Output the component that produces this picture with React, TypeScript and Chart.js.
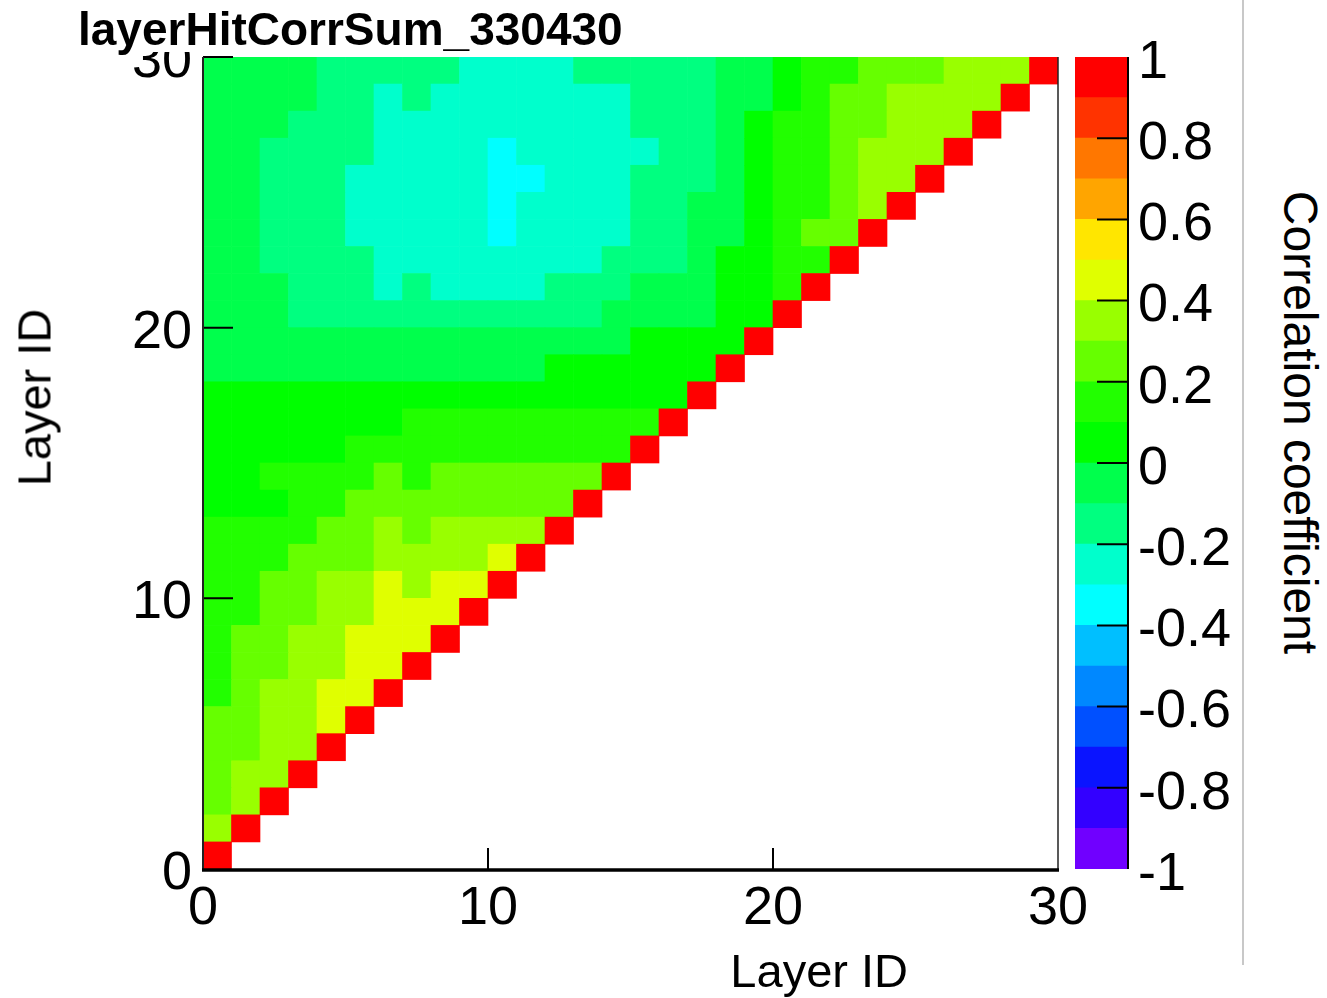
import { useEffect, useRef } from "react";
import { Chart, registerables } from "chart.js";

Chart.register(...registerables);

const FONT = "'Liberation Sans', Arial, Helvetica, sans-serif";

const plotTitle = "layerHitCorrSum_330430";
const axisTitle = "Layer ID";
const colorbarTitle = "Correlation coefficient";

// Layer axes: cell i covers [i, i + 1]
const layerMin = 0;
const layerMax = 30;
const layerTicks = [0, 10, 20, 30];
const colorbarTicks = [-1, -0.8, -0.6, -0.4, -0.2, 0, 0.2, 0.4, 0.6, 0.8, 1];

// 20-band palette between -1 and 1
const paletteLevels = [
  -1, -0.9, -0.8, -0.7, -0.6, -0.5, -0.4, -0.3, -0.2, -0.1, 0,
  0.1, 0.2, 0.3, 0.4, 0.5, 0.6, 0.7, 0.8, 0.9, 1,
];
const paletteColors = [
  "#7000ff", "#3300ff", "#0a14ff", "#0050ff", "#0088ff",
  "#00bfff", "#00ffff", "#00ffcc", "#00ff80", "#00ff4c",
  "#00ff00", "#22ff00", "#66ff00", "#99ff00", "#e0ff00",
  "#ffe600", "#ffa500", "#ff7700", "#ff3300", "#ff0000",
];

// Correlation of layer pairs; row j lists layers 0..j (diagonal = 1)
const rowsLow = [
  [1],
  [0.35, 1],
  [0.25, 0.35, 1],
  [0.25, 0.35, 0.35, 1],
  [0.25, 0.25, 0.35, 0.35, 1],
  [0.25, 0.25, 0.35, 0.35, 0.45, 1],
  [0.15, 0.25, 0.35, 0.35, 0.45, 0.45, 1],
  [0.15, 0.25, 0.25, 0.35, 0.35, 0.45, 0.45, 1],
  [0.15, 0.25, 0.25, 0.35, 0.35, 0.45, 0.45, 0.45, 1],
  [0.15, 0.15, 0.25, 0.25, 0.35, 0.35, 0.45, 0.45, 0.45, 1],
];
const rowsMid = [
  [0.15, 0.15, 0.25, 0.25, 0.35, 0.35, 0.45, 0.35, 0.45, 0.45, 1],
  [0.15, 0.15, 0.15, 0.25, 0.25, 0.25, 0.35, 0.35, 0.35, 0.35, 0.45, 1],
  [0.15, 0.15, 0.15, 0.15, 0.25, 0.25, 0.35, 0.25, 0.35, 0.35, 0.35, 0.35, 1],
  [0.05, 0.05, 0.05, 0.15, 0.15, 0.25, 0.25, 0.25, 0.25, 0.25, 0.25, 0.25, 0.25, 1],
  [0.05, 0.05, 0.15, 0.15, 0.15, 0.15, 0.25, 0.15, 0.25, 0.25, 0.25, 0.25, 0.25, 0.25, 1],
  [0.05, 0.05, 0.05, 0.05, 0.05, 0.15, 0.15, 0.15, 0.15, 0.15, 0.15, 0.15, 0.15, 0.15, 0.15, 1],
  [0.05, 0.05, 0.05, 0.05, 0.05, 0.05, 0.05, 0.15, 0.15, 0.15, 0.15, 0.15, 0.15, 0.15, 0.15, 0.15, 1],
  [0.05, 0.05, 0.05, 0.05, 0.05, 0.05, 0.05, 0.05, 0.05, 0.05, 0.05, 0.05, 0.05, 0.05, 0.05, 0.05, 0.05, 1],
  [-0.05, -0.05, -0.05, -0.05, -0.05, -0.05, -0.05, -0.05, -0.05, -0.05, -0.05, -0.05,
    0.05, 0.05, 0.05, 0.05, 0.05, 0.05, 1],
  [-0.05, -0.05, -0.05, -0.05, -0.05, -0.05, -0.05, -0.05, -0.05, -0.05, -0.05, -0.05, -0.05, -0.05, -0.05,
    0.05, 0.05, 0.05, 0.05, 1],
];
const rowsHigh = [
  [-0.05, -0.05, -0.05, -0.15, -0.15, -0.15, -0.15, -0.15, -0.15, -0.15, -0.15, -0.15, -0.15, -0.15,
    -0.05, -0.05, -0.05, -0.05, 0.05, 0.05, 1],
  [-0.05, -0.05, -0.05, -0.15, -0.15, -0.15, -0.25, -0.15, -0.25, -0.25, -0.25, -0.25,
    -0.15, -0.15, -0.15, -0.05, -0.05, -0.05, 0.05, 0.05, 0.15, 1],
  [-0.05, -0.05, -0.15, -0.15, -0.15, -0.15, -0.25, -0.25, -0.25, -0.25, -0.25, -0.25, -0.25, -0.25,
    -0.15, -0.15, -0.15, -0.05, 0.05, 0.05, 0.15, 0.15, 1],
  [-0.05, -0.05, -0.15, -0.15, -0.15, -0.25, -0.25, -0.25, -0.25, -0.25, -0.35, -0.25, -0.25, -0.25, -0.25,
    -0.15, -0.15, -0.05, -0.05, 0.05, 0.15, 0.25, 0.25, 1],
  [-0.05, -0.05, -0.15, -0.15, -0.15, -0.25, -0.25, -0.25, -0.25, -0.25, -0.35, -0.25, -0.25, -0.25, -0.25,
    -0.15, -0.15, -0.05, -0.05, 0.05, 0.15, 0.15, 0.25, 0.35, 1],
  [-0.05, -0.05, -0.15, -0.15, -0.15, -0.25, -0.25, -0.25, -0.25, -0.25, -0.35, -0.35, -0.25, -0.25, -0.25,
    -0.15, -0.15, -0.15, -0.05, 0.05, 0.15, 0.15, 0.25, 0.35, 0.35, 1],
  [-0.05, -0.05, -0.15, -0.15, -0.15, -0.15, -0.25, -0.25, -0.25, -0.25, -0.35, -0.25, -0.25, -0.25, -0.25, -0.25,
    -0.15, -0.15, -0.05, 0.05, 0.15, 0.15, 0.25, 0.35, 0.35, 0.35, 1],
  [-0.05, -0.05, -0.05, -0.15, -0.15, -0.15, -0.25, -0.25, -0.25, -0.25, -0.25, -0.25, -0.25, -0.25, -0.25,
    -0.15, -0.15, -0.15, -0.05, 0.05, 0.15, 0.15, 0.25, 0.25, 0.35, 0.35, 0.35, 1],
  [-0.05, -0.05, -0.05, -0.05, -0.15, -0.15, -0.25, -0.15, -0.25, -0.25, -0.25, -0.25, -0.25, -0.25, -0.25,
    -0.15, -0.15, -0.15, -0.05, -0.05, 0.05, 0.15, 0.25, 0.25, 0.35, 0.35, 0.35, 0.35, 1],
  [-0.05, -0.05, -0.05, -0.05, -0.15, -0.15, -0.15, -0.15, -0.15, -0.25, -0.25, -0.25, -0.25,
    -0.15, -0.15, -0.15, -0.15, -0.15, -0.05, -0.05, 0.05, 0.15, 0.15, 0.25, 0.25, 0.25, 0.35, 0.35, 0.35, 1],
];

const corrRows = [...rowsLow, ...rowsMid, ...rowsHigh];

function bandColor(v: number): string {
  for (let k = 0; k < paletteColors.length; k++) {
    if (v < paletteLevels[k + 1]) return paletteColors[k];
  }
  return paletteColors[paletteColors.length - 1];
}

const tickFont = { family: FONT, size: 54 };

// Frame and inward-pointing tick marks of the matrix panel
const framePlugin = {
  id: "matrixFrame",
  afterDraw(chart: any) {
    const { ctx, chartArea: a, scales } = chart;
    const x = scales.x;
    const y = scales.y;
    ctx.save();
    ctx.strokeStyle = "#000";
    ctx.lineWidth = 2;
    ctx.beginPath();
    for (const v of layerTicks) {
      if (v === layerMin) continue;
      const py = y.getPixelForValue(v);
      ctx.moveTo(a.left, py);
      ctx.lineTo(a.left + 30, py);
      if (v !== layerMax) {
        const px = x.getPixelForValue(v);
        ctx.moveTo(px, a.bottom);
        ctx.lineTo(px, a.bottom - 21);
      }
    }
    ctx.stroke();
    // left edge
    ctx.strokeStyle = "#222";
    ctx.lineWidth = 2;
    ctx.beginPath();
    ctx.moveTo(a.left, a.top);
    ctx.lineTo(a.left, a.bottom);
    ctx.stroke();
    // right edge
    ctx.lineWidth = 1.5;
    ctx.beginPath();
    ctx.moveTo(a.right, a.top);
    ctx.lineTo(a.right, a.bottom);
    ctx.stroke();
    // bottom edge
    ctx.strokeStyle = "#000";
    ctx.lineWidth = 3.5;
    ctx.beginPath();
    ctx.moveTo(a.left - 1, a.bottom + 1);
    ctx.lineTo(a.right + 1, a.bottom + 1);
    ctx.stroke();
    ctx.restore();
  },
};

// Right edge and tick marks of the palette bar
const colorbarPlugin = {
  id: "paletteFrame",
  afterDraw(chart: any) {
    const { ctx, chartArea: a, scales } = chart;
    const y = scales.y;
    ctx.save();
    ctx.strokeStyle = "#000";
    ctx.lineWidth = 2;
    ctx.beginPath();
    ctx.moveTo(a.right, a.top);
    ctx.lineTo(a.right, a.bottom);
    for (const v of colorbarTicks) {
      if (v === -1 || v === 1) continue;
      const py = y.getPixelForValue(v);
      ctx.moveTo(a.right, py);
      ctx.lineTo(a.right - 31, py);
    }
    ctx.stroke();
    ctx.restore();
  },
};

export default function App() {
  const mainRef = useRef<HTMLCanvasElement>(null);
  const barRef = useRef<HTMLCanvasElement>(null);

  useEffect(() => {
    const datasets = corrRows.map((row, j) => ({
      label: `layer ${j}`,
      data: row.map((_v, i) => ({ x: i + 0.5, y: [j, j + 1] })),
      backgroundColor: row.map(bandColor),
      borderWidth: 0,
      grouped: false,
      barPercentage: 1,
      categoryPercentage: 1,
    }));

    const main = new Chart(mainRef.current as HTMLCanvasElement, {
      type: "bar",
      data: { datasets: datasets as any },
      options: {
        animation: false,
        responsive: false,
        events: [],
        layout: { padding: { left: 0, top: 57, right: 42, bottom: 0 } },
        plugins: { legend: { display: false }, tooltip: { enabled: false } },
        scales: {
          x: {
            type: "linear",
            min: layerMin,
            max: layerMax,
            offset: false,
            grid: { display: false, drawTicks: false, offset: false },
            border: { display: false },
            ticks: {
              font: tickFont,
              color: "#000",
              padding: 8,
              maxRotation: 0,
              autoSkip: false,
              callback: (v: any) => String(v),
            },
            afterBuildTicks: (s: any) => {
              s.ticks = layerTicks.map((v) => ({ value: v }));
            },
            afterFit: (s: any) => {
              s.height = 129;
            },
          },
          y: {
            type: "linear",
            min: layerMin,
            max: layerMax,
            grid: { display: false, drawTicks: false },
            border: { display: false },
            ticks: {
              font: tickFont,
              color: "#000",
              padding: 11,
              labelOffset: 5,
              autoSkip: false,
              callback: (v: any) => String(v),
            },
            afterBuildTicks: (s: any) => {
              s.ticks = layerTicks.map((v) => ({ value: v }));
            },
            afterFit: (s: any) => {
              s.width = 203;
            },
          },
        },
      } as any,
      plugins: [framePlugin],
    });

    const bar = new Chart(barRef.current as HTMLCanvasElement, {
      type: "bar",
      data: {
        labels: [""],
        datasets: paletteColors.map((c, k) => ({
          label: `band ${k}`,
          data: [[paletteLevels[k], paletteLevels[k + 1]]],
          backgroundColor: c,
          borderWidth: 0,
          grouped: false,
          barPercentage: 1,
          categoryPercentage: 1,
        })) as any,
      },
      options: {
        animation: false,
        responsive: false,
        events: [],
        layout: { padding: { left: 15, top: 57, right: 0, bottom: 129 } },
        plugins: { legend: { display: false }, tooltip: { enabled: false } },
        scales: {
          x: { display: false },
          y: {
            type: "linear",
            position: "right",
            min: -1,
            max: 1,
            grid: { display: false, drawTicks: false },
            border: { display: false },
            ticks: {
              font: tickFont,
              color: "#000",
              padding: 10,
              labelOffset: 6,
              autoSkip: false,
              callback: (v: any) => String(Number(Number(v).toFixed(1)) || 0),
            },
            afterBuildTicks: (s: any) => {
              s.ticks = colorbarTicks.map((v) => ({ value: v }));
            },
            afterFit: (s: any) => {
              s.width = 122;
            },
          },
        },
      } as any,
      plugins: [colorbarPlugin],
    });

    return () => {
      main.destroy();
      bar.destroy();
    };
  }, []);

  return (
    <div
      style={{
        position: "absolute",
        left: 0,
        top: 0,
        width: 1327,
        height: 998,
        background: "#fff",
        overflow: "hidden",
        fontFamily: FONT,
        color: "#000",
      }}
    >
      <canvas ref={mainRef} width={1100} height={998} style={{ position: "absolute", left: 0, top: 0 }} />
      <canvas ref={barRef} width={190} height={998} style={{ position: "absolute", left: 1060, top: 0 }} />
      <div
        style={{
          position: "absolute",
          left: 70,
          top: 0,
          width: 570,
          height: 52,
          background: "#fff",
          boxSizing: "border-box",
          paddingLeft: 8,
          paddingTop: 6,
          fontSize: 46,
          lineHeight: "46px",
          fontWeight: "bold",
          whiteSpace: "nowrap",
        }}
      >
        {plotTitle}
      </div>
      <div
        style={{
          position: "absolute",
          right: 1327 - 908,
          top: 947,
          fontSize: 47,
          lineHeight: "47px",
          whiteSpace: "nowrap",
        }}
      >
        {axisTitle}
      </div>
      <div
        style={{
          position: "absolute",
          left: 34 - 120,
          top: 397 - 23,
          width: 240,
          height: 47,
          fontSize: 47,
          lineHeight: "47px",
          textAlign: "center",
          whiteSpace: "nowrap",
          transform: "rotate(-90deg)",
        }}
      >
        {axisTitle}
      </div>
      <div
        style={{
          position: "absolute",
          left: 1300 - 300,
          top: 422 - 23,
          width: 600,
          height: 47,
          fontSize: 48,
          lineHeight: "47px",
          textAlign: "center",
          whiteSpace: "nowrap",
          transform: "rotate(90deg)",
        }}
      >
        {colorbarTitle}
      </div>
      <div
        style={{
          position: "absolute",
          left: 1242,
          top: 0,
          width: 2,
          height: 965,
          background: "#c8c8c8",
        }}
      />
    </div>
  );
}
